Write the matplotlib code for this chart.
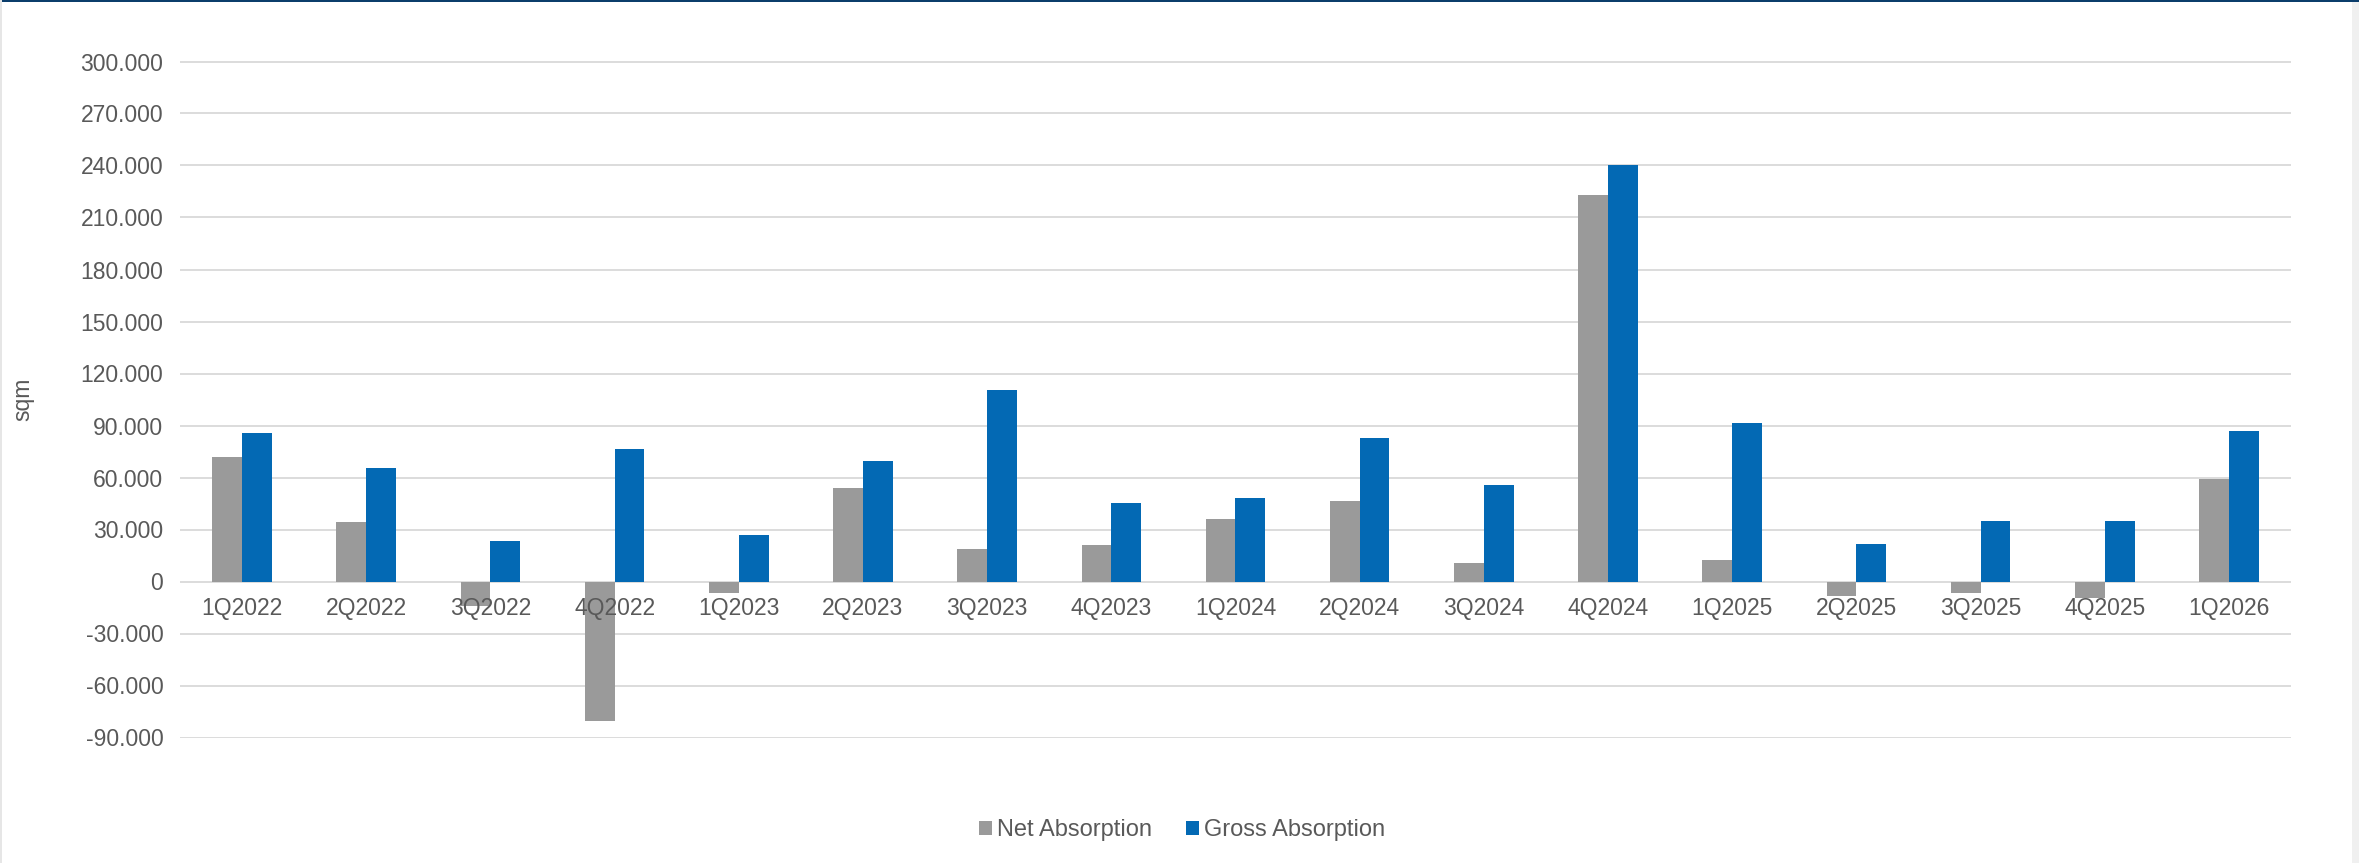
import matplotlib
matplotlib.use('Agg')
import matplotlib.pyplot as plt
from matplotlib.patches import Rectangle
from matplotlib.ticker import FuncFormatter, MultipleLocator
import numpy as np

plt.rcParams['font.family'] = ['Liberation Sans', 'DejaVu Sans']

quarters = ['1Q2022', '2Q2022', '3Q2022', '4Q2022',
            '1Q2023', '2Q2023', '3Q2023', '4Q2023',
            '1Q2024', '2Q2024', '3Q2024', '4Q2024',
            '1Q2025', '2Q2025', '3Q2025', '4Q2025',
            '1Q2026']
net_absorption = [71800, 34400, -14200, -80200,
                  -6500, 53800, 18900, 21200,
                  36000, 46700, 10600, 222800,
                  12300, -8300, -6700, -9400,
                  58900]
gross_absorption = [85800, 65300, 23200, 76400,
                    26600, 69600, 110400, 45100,
                    48000, 83000, 55700, 240000,
                    91300, 21700, 35100, 35100,
                    86800]

GREY = '#9A9A9A'
BLUE = '#0369B4'
TEXT = '#595959'
GRID = '#D9D9D9'

W, H, DPI = 2359, 863, 100
fig = plt.figure(figsize=(W / DPI, H / DPI), dpi=DPI)
ax = fig.add_axes([180 / W, 1 - 737.5 / H, (2291 - 180) / W, (737.5 - 61.5) / H])

x = np.arange(len(quarters))
bw = 0.24
ax.bar(x - bw / 2, net_absorption, bw, color=GREY, label='Net Absorption', zorder=2)
ax.bar(x + bw / 2, gross_absorption, bw, color=BLUE, label='Gross Absorption', zorder=2)

ax.set_xlim(-0.5, len(quarters) - 0.5)
ax.set_ylim(-90000, 300000)
ax.yaxis.set_major_locator(MultipleLocator(30000))
ax.yaxis.set_major_formatter(FuncFormatter(lambda v, p: f'{v:,.0f}'.replace(',', '.')))
ax.grid(axis='y', color=GRID, linewidth=1.3)
ax.set_axisbelow(True)

for s in ax.spines.values():
    s.set_visible(False)
ax.spines['bottom'].set_position(('data', 0))

ax.set_xticks(x)
ax.set_xticklabels(quarters)
ax.tick_params(axis='x', length=0, pad=11, labelsize=16.5, labelcolor=TEXT)
ax.tick_params(axis='y', length=0, pad=12, labelsize=16.5, labelcolor=TEXT)
# category labels sit on the zero line and are drawn over negative bars
ax.xaxis.set_zorder(4)

fig.text(23 / W, 1 - 399 / H, 'sqm', rotation=90, ha='center', va='center',
         fontsize=16.5, color=TEXT)

leg = fig.legend(loc='center', bbox_to_anchor=(1182 / W, 1 - 830 / H), ncol=2,
                 frameon=False, fontsize=17, handlelength=0.54, handleheight=0.54,
                 handletextpad=0.2, columnspacing=1.45, borderpad=0)
for t in leg.get_texts():
    t.set_color(TEXT)

# frame decorations: navy rule on top, light edges at the sides
fig.patches.append(Rectangle((0, 1 - 2.5 / H), 1, 2.5 / H, transform=fig.transFigure,
                             facecolor='#0B3D6B', edgecolor='none', zorder=10))
fig.patches.append(Rectangle((0, 0), 1.5 / W, 1, transform=fig.transFigure,
                             facecolor='#E6E6E6', edgecolor='none', zorder=10))
fig.patches.append(Rectangle((2352 / W, 0), 7 / W, 1 - 2.5 / H, transform=fig.transFigure,
                             facecolor='#F0F0F0', edgecolor='none', zorder=10))

fig.savefig('out.png', dpi=DPI)
